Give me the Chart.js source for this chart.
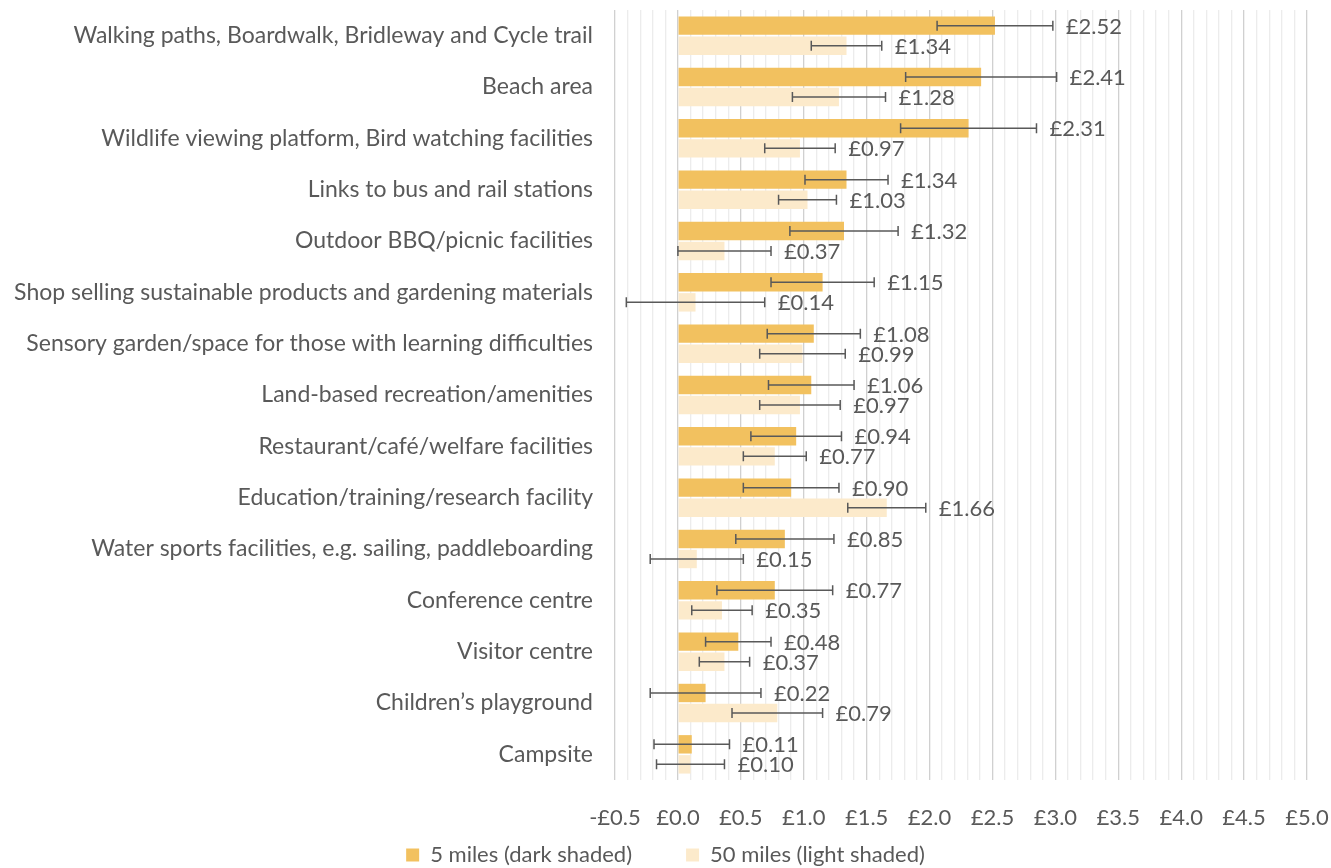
<!DOCTYPE html>
<html>
<head>
<meta charset="utf-8">
<script src="https://cdn.jsdelivr.net/npm/chart.js@4"></script>
<style>
  html, body { margin: 0; padding: 0; background: #fff; }
  #wrap { width: 1331px; height: 868px; }
</style>
</head>
<body>
<div id="wrap"><canvas id="chart"></canvas></div>
<script>
const categories = [
  'Walking paths, Boardwalk, Bridleway and Cycle trail',
  'Beach area',
  'Wildlife viewing platform, Bird watching facilities',
  'Links to bus and rail stations',
  'Outdoor BBQ/picnic facilities',
  'Shop selling sustainable products and gardening materials',
  'Sensory garden/space for those with learning difficulties',
  'Land-based recreation/amenities',
  'Restaurant/café/welfare facilities',
  'Education/training/research facility',
  'Water sports facilities, e.g. sailing, paddleboarding',
  'Conference centre',
  'Visitor centre',
  'Children’s playground',
  'Campsite'
];

const fiveMiles = [2.52, 2.41, 2.31, 1.34, 1.32, 1.15, 1.08, 1.06, 0.94, 0.90, 0.85, 0.77, 0.48, 0.22, 0.11];
const fiftyMiles = [1.34, 1.28, 0.97, 1.03, 0.37, 0.14, 0.99, 0.97, 0.77, 1.66, 0.15, 0.35, 0.37, 0.79, 0.10];

// half-width of the error bars (same above and below)
const fiveMilesErr = [0.46, 0.60, 0.54, 0.33, 0.43, 0.41, 0.37, 0.34, 0.36, 0.38, 0.39, 0.46, 0.26, 0.44, 0.30];
const fiftyMilesErr = [0.28, 0.37, 0.28, 0.23, 0.37, 0.55, 0.34, 0.32, 0.25, 0.31, 0.37, 0.24, 0.20, 0.36, 0.27];

const seriesNames = ['5 miles (dark shaded)', '50 miles (light shaded)'];
const xTicks = [-0.5, 0, 0.5, 1, 1.5, 2, 2.5, 3, 3.5, 4, 4.5, 5];

const textColor = '#595959';
const fontFamily = 'Lato, "Open Sans", sans-serif';

const isMajor = v => xTicks.some(t => Math.abs(t - v) < 1e-6);

const errorBars = {
  id: 'errorBars',
  afterLayout(chart) {
    // pull the legend up closer to the axis labels (keep its bottom so nothing is clipped)
    chart.legend.top -= 42;
    chart.legend.height += 42;
  },
  afterDatasetsDraw(chart) {
    const ctx = chart.ctx;
    const x = chart.scales.x;
    const errs = [fiveMilesErr, fiftyMilesErr];
    ctx.save();
    chart.data.datasets.forEach((ds, di) => {
      const meta = chart.getDatasetMeta(di);
      meta.data.forEach((bar, i) => {
        const v = ds.data[i];
        const lo = x.getPixelForValue(v - errs[di][i]);
        const hi = x.getPixelForValue(v + errs[di][i]);
        const y = bar.y;
        ctx.strokeStyle = '#595959';
        ctx.lineWidth = 1.5;
        ctx.beginPath();
        ctx.moveTo(lo, y); ctx.lineTo(hi, y);
        ctx.moveTo(lo, y - 5); ctx.lineTo(lo, y + 5);
        ctx.moveTo(hi, y - 5); ctx.lineTo(hi, y + 5);
        ctx.stroke();

        ctx.fillStyle = textColor;
        ctx.font = '22px ' + fontFamily;
        ctx.textAlign = 'left';
        ctx.textBaseline = 'middle';
        ctx.fillText('£' + v.toFixed(2), hi + 13, y + 1);
      });
    });
    ctx.restore();
  }
};

new Chart(document.getElementById('chart'), {
  type: 'bar',
  data: {
    labels: categories,
    datasets: [
      {
        label: seriesNames[0],
        data: fiveMiles,
        backgroundColor: '#F2C15F',
        categoryPercentage: 0.78,
        barPercentage: 0.92
      },
      {
        label: seriesNames[1],
        data: fiftyMiles,
        backgroundColor: '#FCEACB',
        categoryPercentage: 0.78,
        barPercentage: 0.92
      }
    ]
  },
  options: {
    indexAxis: 'y',
    responsive: true,
    maintainAspectRatio: false,
    animation: false,
    layout: { padding: { top: 10, right: 0, left: 0, bottom: -8 } },
    scales: {
      x: {
        min: -0.5,
        max: 5,
        ticks: {
          stepSize: 0.1,
          autoSkip: false,
          maxRotation: 0,
          padding: 25,
          color: textColor,
          font: { family: fontFamily, size: 22 },
          callback: v => isMajor(v) ? (v < 0 ? '-£' : '£') + Math.abs(v).toFixed(1) : ''
        },
        grid: {
          drawTicks: false,
          color: c => isMajor(c.tick.value) ? '#d0d0d0' : '#ececec',
          lineWidth: 1.3
        },
        border: { display: false },
        afterFit: s => { s.height = 52; s.paddingLeft = 0; s.paddingRight = 24; }
      },
      y: {
        ticks: {
          padding: 22,
          color: textColor,
          font: { family: fontFamily, size: 23 }
        },
        grid: { display: false, drawTicks: false },
        border: { display: false },
        afterFit: s => { s.width = 615; s.paddingTop = 0; s.paddingBottom = 0; }
      }
    },
    plugins: {
      legend: {
        position: 'bottom',
        maxHeight: 44,
        labels: {
          color: textColor,
          font: { family: fontFamily, size: 22 },
          boxWidth: 13,
          boxHeight: 13,
          padding: 54
        }
      },
      tooltip: { enabled: false }
    }
  },
  plugins: [errorBars]
});
</script>
</body>
</html>
